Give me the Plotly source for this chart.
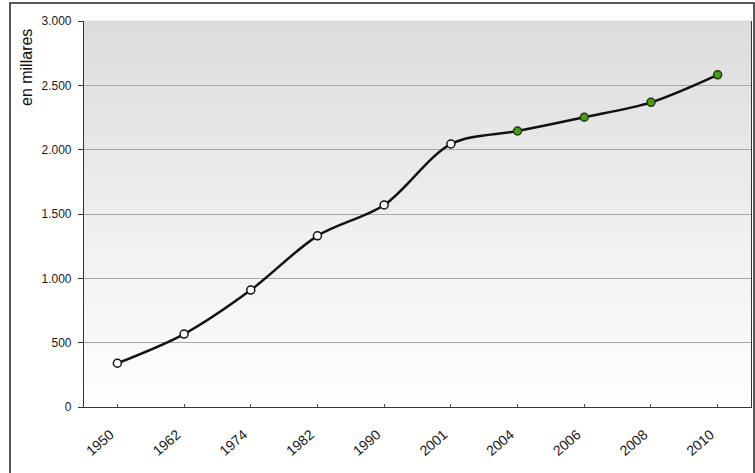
import plotly.graph_objects as go

years = ["1950", "1962", "1974", "1982", "1990", "2001", "2004", "2006", "2008", "2010"]
population = [340, 567, 909, 1330, 1570, 2044, 2145, 2252, 2368, 2582]
is_estimate = [False, False, False, False, False, False, True, True, True, True]
y_ticks = [0, 500, 1000, 1500, 2000, 2500, 3000]

W, H = 755, 473
L, R, T, B = 84, 4, 21, 66
pw, ph = W - L - R, H - T - B

fill_colors = ["#4d9a1e" if e else "#ffffff" for e in is_estimate]
line_colors = ["#1f3d0c" if e else "#111111" for e in is_estimate]

fig = go.Figure()
fig.add_trace(go.Scatter(
    x=years, y=population, mode="lines+markers",
    line=dict(color="#111111", width=2.5, shape="spline", smoothing=0.9),
    marker=dict(size=8, color=fill_colors, line=dict(color=line_colors, width=1.5)),
    hoverinfo="x+y", showlegend=False,
))

shapes = []
n = 60
for i in range(n):
    v = int(round(220 + (255 - 220) * (1 - (i + 0.5) / n)))
    shapes.append(dict(type="rect", xref="x domain", yref="y domain",
                       x0=0, x1=1, y0=i / n, y1=(i + 1) / n + 0.001,
                       fillcolor=f"rgb({v},{v},{v})", line=dict(width=0), layer="below"))
# outer figure border (pixel positions converted to paper units)
shapes.append(dict(type="rect", xref="paper", yref="paper",
                   x0=(10 - L) / pw, x1=(754 - L) / pw,
                   y0=(407 - 480) / ph, y1=(407 - 3) / ph,
                   line=dict(color="#222222", width=1.5), fillcolor="rgba(0,0,0,0)", layer="above"))

fig.update_layout(
    width=W, height=H,
    margin=dict(l=L, r=R, t=T, b=B, autoexpand=False),
    paper_bgcolor="white", plot_bgcolor="white",
    separators=",.",
    shapes=shapes,
    font=dict(family="Liberation Sans, Arial, sans-serif", size=12, color="#1a1a1a"),
    xaxis=dict(
        type="category", range=[-0.5, 9.5], tickangle=-41,
        showgrid=False, showline=True, linecolor="#333333", linewidth=1.2,
        ticks="inside", ticklen=3, tickcolor="#555555",
        ticklabelstandoff=13, ticklabelshift=-7,
        tickfont=dict(size=14, color="#1a1a1a"), fixedrange=True,
    ),
    yaxis=dict(
        range=[0, 3000], tickvals=y_ticks, tickformat=",d",
        showgrid=True, gridcolor="#a8a8a8", gridwidth=1,
        showline=True, linecolor="#333333", linewidth=1.2, mirror=True,
        ticks="outside", ticklen=5, tickcolor="#333333", ticklabelstandoff=4,
        tickfont=dict(size=12, color="#1a1a1a"), zeroline=False, fixedrange=True,
    ),
    annotations=[dict(
        text="en millares", textangle=-90, xref="paper", yref="paper",
        x=(26 - L) / pw, y=(407 - 68) / ph, xanchor="center", yanchor="middle",
        showarrow=False, font=dict(size=16, color="#111111"),
    )],
)

fig.write_html("out.html", config={"displayModeBar": False},
               post_script="document.body.style.margin='0';")
